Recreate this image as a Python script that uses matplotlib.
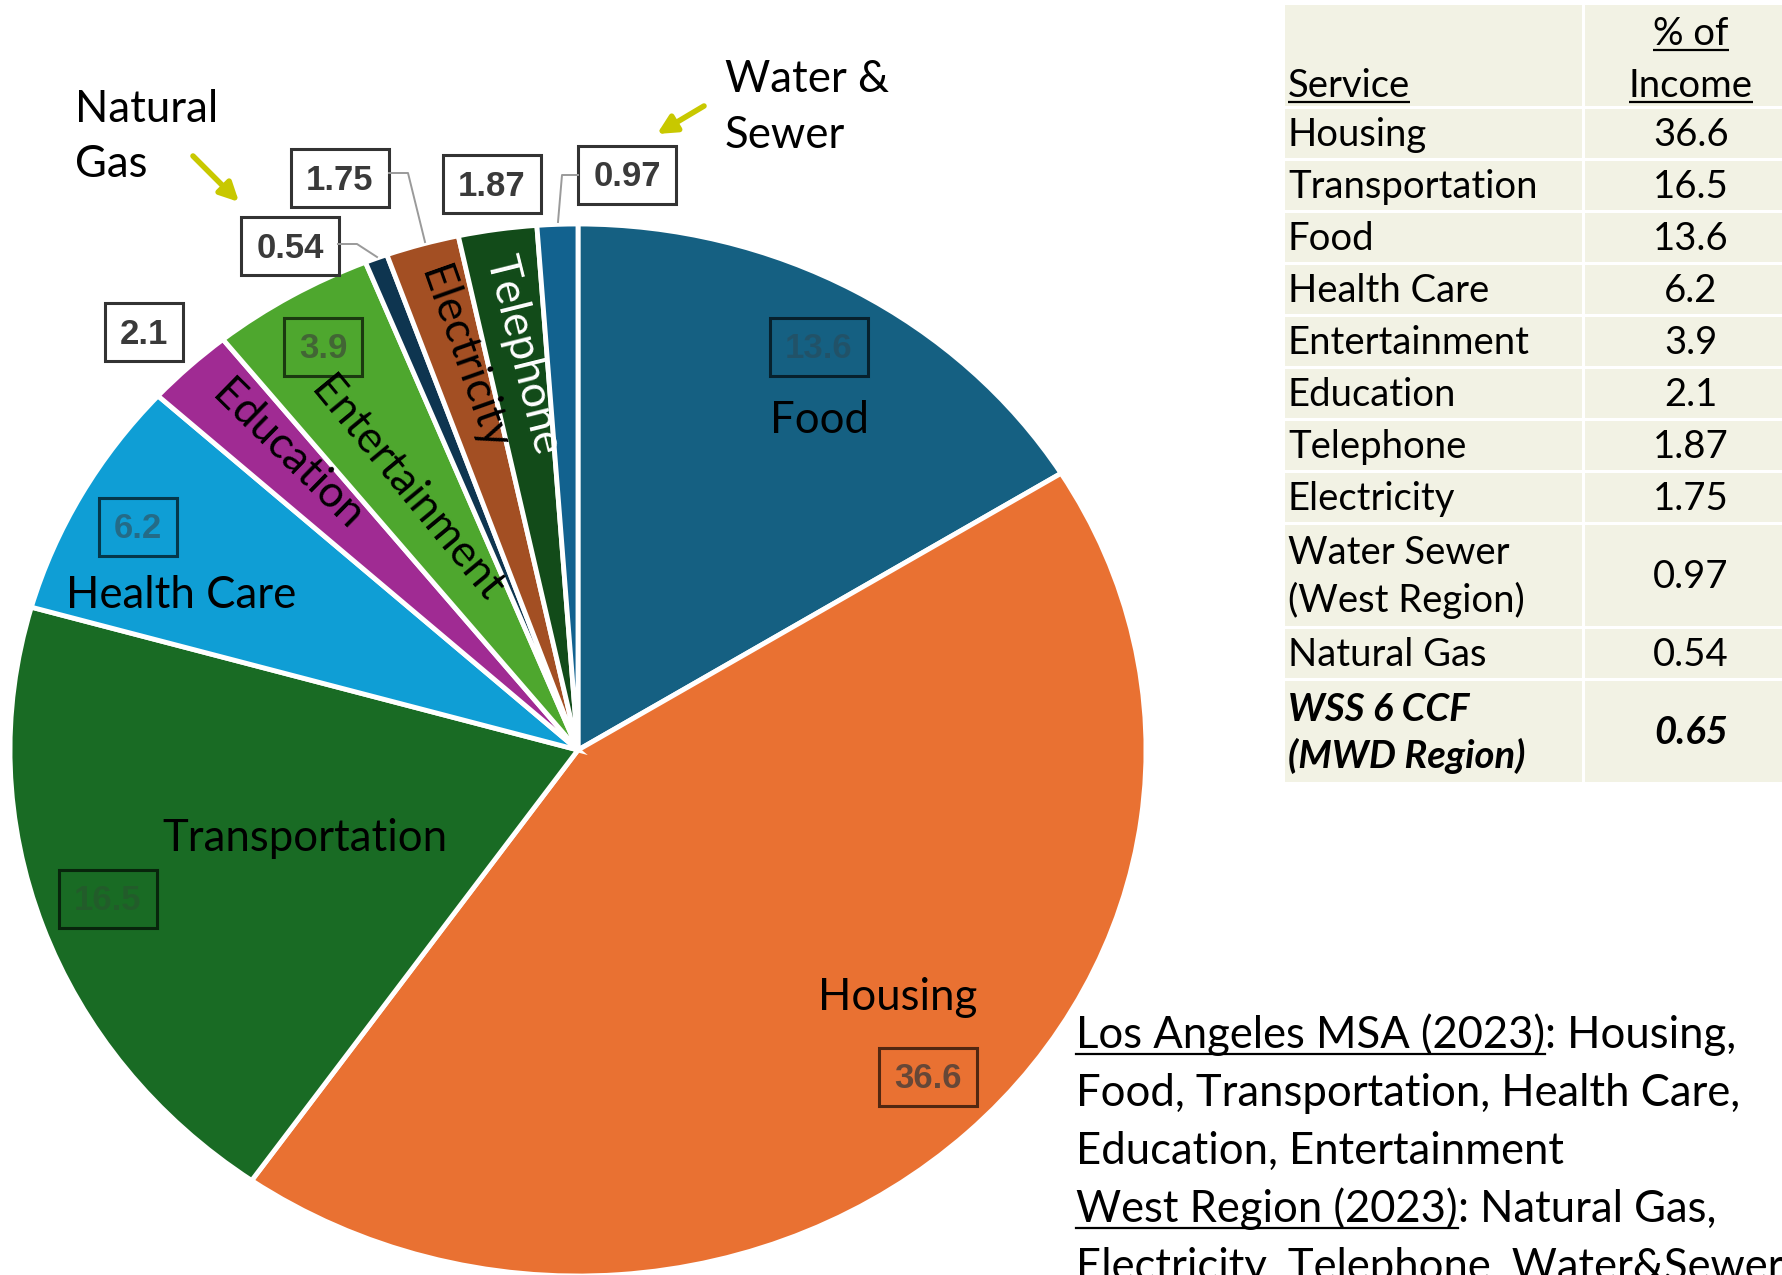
import matplotlib
matplotlib.use("Agg")
import matplotlib.pyplot as plt
from matplotlib.patches import Rectangle

# canvas size in pixels (dpi 100)
W, H = 1783, 1275

# pie data, clockwise from 12 o'clock
services = ["Food", "Housing", "Transportation", "Health Care", "Education",
            "Entertainment", "Natural Gas", "Electricity", "Telephone", "Water & Sewer"]
pct = [13.6, 36.6, 16.5, 6.2, 2.1, 3.9, 0.54, 1.75, 1.87, 0.97]
colors = ["#156082", "#E97132", "#196B24", "#0F9ED5", "#A02B93", "#4EA72E",
          "#0E3550", "#A34F23", "#124B19", "#12628F"]

# table on the right
table_services = ["Housing", "Transportation", "Food", "Health Care", "Entertainment",
                  "Education", "Telephone", "Electricity", "Water Sewer\n(West Region)",
                  "Natural Gas"]
table_pct = ["36.6", "16.5", "13.6", "6.2", "3.9", "2.1", "1.87", "1.75", "0.97", "0.54"]
wss_service = "WSS 6 CCF\n(MWD Region)"
wss_pct = "0.65"

# note under the table: (text, underlined) pieces per line
note_lines = [
    [("Los Angeles MSA (2023)", True), (": Housing,", False)],
    [("Food, Transportation, Health Care,", False)],
    [("Education, Entertainment", False)],
    [("West Region (2023)", True), (": Natural Gas,", False)],
    [("Electricity, Telephone, Water&Sewer", False)],
]

SANS = ["Lato", "DejaVu Sans"]
BOLD = ["Liberation Sans", "DejaVu Sans"]

fig = plt.figure(figsize=(W / 100, H / 100), dpi=100)

# --- pie (slightly squashed vertically, like the source image) ---
cx, cy, rx, ry = 578, 750, 568, 526
m = 1.05
ax = fig.add_axes([(cx - rx * m) / W, (H - cy - ry * m) / H, 2 * rx * m / W, 2 * ry * m / H])
ax.pie(pct, colors=colors, startangle=90, counterclock=False, radius=1,
       wedgeprops=dict(edgecolor="white", linewidth=3.5))
ax.set_xlim(-m, m)
ax.set_ylim(-m, m)
ax.set_aspect("auto")
ax.axis("off")

# overlay in pixel coordinates (y down)
ov = fig.add_axes([0, 0, 1, 1])
ov.set_xlim(0, W)
ov.set_ylim(H, 0)
ov.axis("off")

# slice names
lbl = dict(family=SANS, fontsize=31.5, color="black")
ov.text(820, 433, "Food", ha="center", va="baseline", **lbl)
ov.text(898, 1010, "Housing", ha="center", va="baseline", **lbl)
ov.text(305, 851, "Transportation", ha="center", va="baseline", **lbl)
ov.text(181, 608, "Health Care", ha="center", va="baseline", **lbl)
ov.text(287, 456, "Education", ha="center", va="center", rotation=-44.5,
        rotation_mode="anchor", **lbl)
ov.text(407, 490, "Entertainment", ha="center", va="center", rotation=-50.5,
        rotation_mode="anchor", **lbl)
ov.text(463, 358, "Electricity", ha="center", va="center", rotation=-70.5,
        rotation_mode="anchor", **lbl)
ov.text(523, 355, "Telephone", ha="center", va="center", rotation=-76,
        rotation_mode="anchor", family=SANS, fontsize=31.5, color="white")

ov.text(75, 122, "Natural", ha="left", va="baseline", **lbl)
ov.text(75, 177, "Gas", ha="left", va="baseline", **lbl)
ov.text(725, 92, "Water &", ha="left", va="baseline", **lbl)
ov.text(725, 148, "Sewer", ha="left", va="baseline", **lbl)

arrow = dict(arrowstyle="-|>", color="#C8C800", lw=4, mutation_scale=28,
             shrinkA=0, shrinkB=0)
ov.annotate("", xy=(239, 202), xytext=(193, 156), arrowprops=arrow)
ov.annotate("", xy=(657, 134), xytext=(704, 106), arrowprops=arrow)

# value boxes: centre in px, inside slice?, text alpha
box_pos = {
    "Food": (819, 347, True, 0.35),
    "Housing": (928, 1077, True, 0.75),
    "Transportation": (108, 899, True, 0.3),
    "Health Care": (138, 527, True, 0.5),
    "Education": (144, 332, False, 1.0),
    "Entertainment": (323, 347, True, 0.6),
    "Natural Gas": (290, 246, False, 1.0),
    "Electricity": (340, 178, False, 1.0),
    "Telephone": (492, 184, False, 1.0),
    "Water & Sewer": (627, 175, False, 1.0),
}
for name, val in zip(services, pct):
    x, y, inside, a = box_pos[name]
    s = str(val)
    bw = 98 if len(s) > 3 else 78
    bh = 58
    if inside:
        ov.add_patch(Rectangle((x - bw / 2, y - bh / 2), bw, bh, fill=False,
                               edgecolor="black", alpha=0.65, lw=2.2))
    else:
        ov.add_patch(Rectangle((x - bw / 2, y - bh / 2), bw, bh, facecolor="white",
                               edgecolor="#333333", lw=2.2))
    ov.text(x, y + 2, s, ha="center", va="center", family=BOLD, weight="bold",
            fontsize=25, color="#3a3a3a", alpha=a)

# leader lines to the thin slices
lead = dict(color="#9a9a9a", lw=1.4)
ov.plot([338, 357, 377], [244, 244, 257], **lead)
ov.plot([389, 408, 425], [173, 173, 242], **lead)
ov.plot([578, 562, 558], [175, 175, 222], **lead)

# --- table ---
fig.canvas.draw()
renderer = fig.canvas.get_renderer()
inv = ov.transData.inverted()


def underline(t, y, lw=1.6):
    bb = t.get_window_extent(renderer=renderer)
    (x0, _), (x1, _) = inv.transform([[bb.x0, bb.y0], [bb.x1, bb.y1]])
    ov.plot([x0, x1], [y, y], color="black", lw=lw, solid_capstyle="butt")
    return x1


c1x0, c1x1, c2x0, c2x1 = 1285, 1582, 1585, 1800
cell = "#F2F2E4"
tfont = dict(family=SANS, fontsize=27.5, color="black")
row_h = 52
top = 3
heights = [104] + [row_h] * 8 + [104, row_h, 104]
names = [None] + table_services + [wss_service]
vals = [None] + table_pct + [wss_pct]
y = top
for i, (h, nm, v) in enumerate(zip(heights, names, vals)):
    ov.add_patch(Rectangle((c1x0, y + 1.5), c1x1 - c1x0, h - 3, color=cell, lw=0))
    ov.add_patch(Rectangle((c2x0, y + 1.5), c2x1 - c2x0, h - 3, color=cell, lw=0))
    mid = y + h / 2
    if i == 0:
        t = ov.text(c1x0 + 3, 97, "Service", ha="left", va="baseline", **tfont)
        underline(t, 102)
        t = ov.text(1691, 45, "% of", ha="center", va="baseline", **tfont)
        underline(t, 50)
        t = ov.text(1691, 97, "Income", ha="center", va="baseline", **tfont)
        underline(t, 102)
    elif i == len(heights) - 1:
        ov.text(c1x0 + 3, mid + 2, nm, ha="left", va="center", linespacing=1.38,
                weight="bold", style="italic", **tfont)
        ov.text(1691, mid + 2, v, ha="center", va="center", weight="bold",
                style="italic", **tfont)
    else:
        ov.text(c1x0 + 3, mid + 2, nm, ha="left", va="center", linespacing=1.38, **tfont)
        ov.text(1691, mid + 2, v, ha="center", va="center", **tfont)
    y += h

# --- note (last line runs off the bottom, as in the source) ---
nfont = dict(family=SANS, fontsize=31.4, color="black")
base = 1048
for line in note_lines:
    x = 1076
    for txt, ul in line:
        t = ov.text(x, base, txt, ha="left", va="baseline", **nfont)
        bb = t.get_window_extent(renderer=renderer)
        x_end = inv.transform([[bb.x1, bb.y0]])[0][0]
        if ul:
            ov.plot([x, x_end], [base + 6, base + 6], color="black", lw=1.6)
        x = x_end
    base += 58

fig.savefig("out.png", dpi=100)
